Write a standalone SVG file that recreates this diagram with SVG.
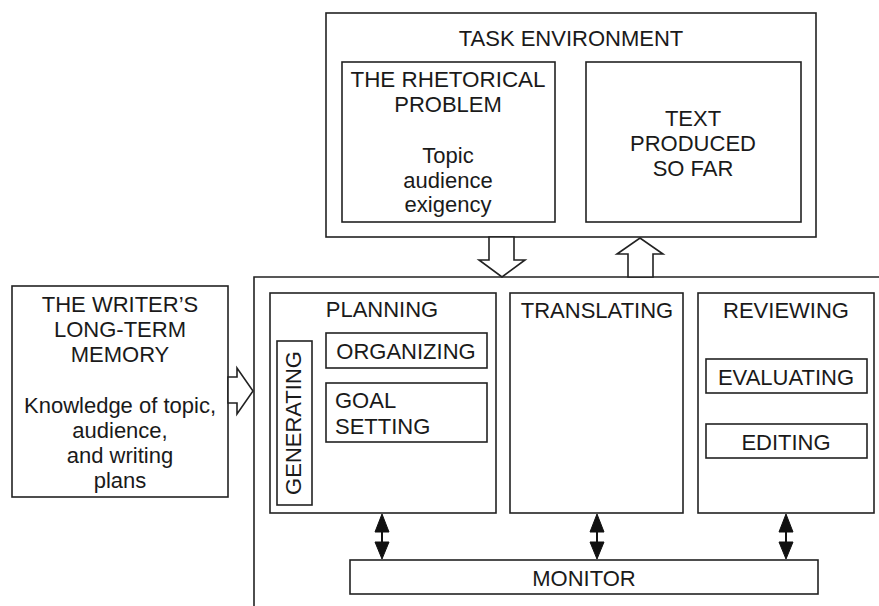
<svg xmlns="http://www.w3.org/2000/svg" width="879" height="606" viewBox="0 0 879 606">
  <style>
    .box { fill: none; stroke: #222; stroke-width: 1.6; }
    .blk { fill: #fff; stroke: #222; stroke-width: 1.6; stroke-linejoin: miter; }
    .dbl { fill: #111; stroke: #111; stroke-width: 1; }
    .shaft { stroke: #111; stroke-width: 2; }
    text { font-family: "Liberation Sans", Arial, Helvetica, sans-serif; font-size: 22px; fill: #1a1a1a; }
    .c { text-anchor: middle; }
  </style>
  <rect width="879" height="606" fill="#fff"/>

  <!-- Task environment -->
  <g id="task-environment">
    <rect class="box" x="326" y="13" width="490" height="224"/>
    <text class="c" x="571" y="46">TASK ENVIRONMENT</text>
  </g>
  <g id="rhetorical-problem">
    <rect class="box" x="342" y="62" width="213" height="160"/>
    <text class="c" x="448" y="87" textLength="195" lengthAdjust="spacingAndGlyphs">THE RHETORICAL</text>
    <text class="c" x="448" y="112">PROBLEM</text>
    <text class="c" x="448" y="163">Topic</text>
    <text class="c" x="448" y="188">audience</text>
    <text class="c" x="448" y="212">exigency</text>
  </g>
  <g id="text-produced">
    <rect class="box" x="586" y="62" width="215" height="160"/>
    <text class="c" x="693" y="126">TEXT</text>
    <text class="c" x="693" y="151">PRODUCED</text>
    <text class="c" x="693" y="176">SO FAR</text>
  </g>

  <!-- Long-term memory -->
  <g id="long-term-memory">
    <rect class="box" x="12" y="286" width="216" height="211"/>
    <text class="c" x="120" y="312">THE WRITER’S</text>
    <text class="c" x="120" y="337">LONG-TERM</text>
    <text class="c" x="120" y="362">MEMORY</text>
    <text class="c" x="120" y="413">Knowledge of topic,</text>
    <text class="c" x="120" y="438">audience,</text>
    <text class="c" x="120" y="463">and writing</text>
    <text class="c" x="120" y="488">plans</text>
  </g>

  <!-- Writing processes (open frame) -->
  <g id="writing-processes">
    <path class="box" d="M254,606 V277 H879"/>
  </g>

  <g id="planning">
    <rect class="box" x="270" y="293" width="226" height="220"/>
    <text class="c" x="382" y="317">PLANNING</text>
  </g>
  <g id="generating">
    <rect class="box" x="277" y="341" width="35" height="164"/>
    <text class="c" transform="translate(301,423) rotate(-90)">GENERATING</text>
  </g>
  <g id="organizing">
    <rect class="box" x="326" y="333" width="161" height="35"/>
    <text class="c" x="406" y="359">ORGANIZING</text>
  </g>
  <g id="goal-setting">
    <rect class="box" x="326" y="383" width="161" height="59"/>
    <text x="335" y="408">GOAL</text>
    <text x="335" y="434">SETTING</text>
  </g>

  <g id="translating">
    <rect class="box" x="510" y="293" width="173" height="220"/>
    <text class="c" x="597" y="318">TRANSLATING</text>
  </g>

  <g id="reviewing">
    <rect class="box" x="698" y="293" width="176" height="220"/>
    <text class="c" x="786" y="318">REVIEWING</text>
  </g>
  <g id="evaluating">
    <rect class="box" x="706" y="359" width="161" height="34"/>
    <text class="c" x="786" y="385">EVALUATING</text>
  </g>
  <g id="editing">
    <rect class="box" x="706" y="424" width="161" height="34"/>
    <text class="c" x="786" y="450">EDITING</text>
  </g>

  <g id="monitor">
    <rect class="box" x="350" y="560" width="468" height="34"/>
    <text class="c" x="584" y="586">MONITOR</text>
  </g>

  <!-- Connectors -->
  <g id="connectors">
    <!-- block arrows -->
    <polygon class="blk" points="489,237 489,260 479,260 502,277 525,260 514,260 514,237"/>
    <polygon class="blk" points="628,277 628,254 617,254 640,238 663,254 653,254 653,277"/>
    <polygon class="blk" points="228,377 237,377 237,368 253,391 237,414 237,403 228,403"/>
    <!-- two-way arrows to monitor -->
    <g>
      <line class="shaft" x1="382" y1="530" x2="382" y2="544"/>
      <polygon class="dbl" points="382,514 375,532 389,532"/>
      <polygon class="dbl" points="382,559 375,542 389,542"/>
    </g>
    <g>
      <line class="shaft" x1="597" y1="530" x2="597" y2="544"/>
      <polygon class="dbl" points="597,514 590,532 604,532"/>
      <polygon class="dbl" points="597,559 590,542 604,542"/>
    </g>
    <g>
      <line class="shaft" x1="786" y1="530" x2="786" y2="544"/>
      <polygon class="dbl" points="786,514 779,532 793,532"/>
      <polygon class="dbl" points="786,559 779,542 793,542"/>
    </g>
  </g>
</svg>
